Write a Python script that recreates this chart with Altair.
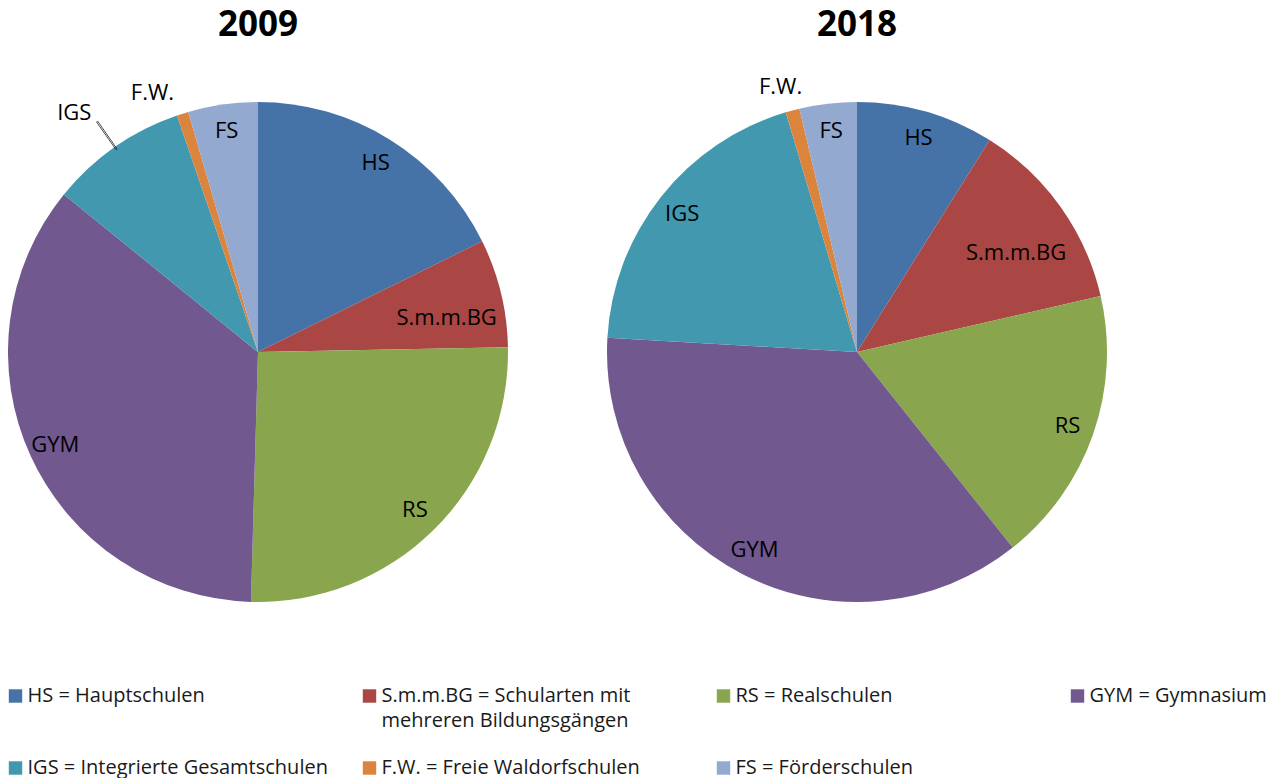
import math
import altair as alt
import pandas as pd

# ---- data ----
categories = ["HS", "S.m.m.BG", "RS", "GYM", "IGS", "F.W.", "FS"]
legend_labels = [
    "HS = Hauptschulen",
    "S.m.m.BG = Schularten mit\nmehreren Bildungsgängen",
    "RS = Realschulen",
    "GYM = Gymnasium",
    "IGS = Integrierte Gesamtschulen",
    "F.W. = Freie Waldorfschulen",
    "FS = Förderschulen",
]
colors = ["#4572A7", "#AA4643", "#89A54E", "#71588F", "#4198AF", "#DB843D", "#93A9CF"]
share_2009 = [17.7, 7.0, 25.75, 35.4, 8.9, 0.75, 4.5]
share_2018 = [8.9, 12.5, 17.9, 36.6, 19.5, 0.9, 3.7]
years = ["2009", "2018"]
wide_labels = ["S.m.m.BG"]
outside_near = {"2009": ["F.W."], "2018": ["F.W."]}
outside_far = {"2009": ["IGS"], "2018": []}

FONT = "Open Sans"
color_scale = alt.Scale(domain=categories, range=colors)
theta_scale = alt.Scale(domain=[0, 1], range=[0, 2 * math.pi])
R = 250
# label nudges (pixels) per label group and year
nudge_near = {"2009": (-22, 5), "2018": (-5, 3)}
nudge_far = {"2009": (-12, 7), "2018": (0, 0)}


def js_list(items):
    return "[" + ",".join("'" + s + "'" for s in items) + "]"


def pie(year, values):
    df = pd.DataFrame({"cat": categories, "share": values, "idx": list(range(len(categories)))})
    base = (
        alt.Chart(df)
        .transform_joinaggregate(total="sum(share)")
        .transform_window(cum="sum(share)", sort=[{"field": "idx"}], frame=[None, 0])
        .transform_calculate(
            start="(datum.cum - datum.share) / datum.total",
            end="datum.cum / datum.total",
            mid="(datum.cum - datum.share / 2) / datum.total",
        )
    )
    arcs = base.mark_arc(outerRadius=R).encode(
        theta=alt.Theta("start:Q", scale=theta_scale),
        theta2="end:Q",
        color=alt.Color("cat:N", scale=color_scale, legend=None),
    )
    txt = dict(font=FONT, fontSize=22, color="#000000")
    label_theta = alt.Theta("mid:Q", scale=theta_scale, stack=False)
    special = wide_labels + outside_near[year] + outside_far[year]
    layers = [arcs]
    layers.append(
        base.transform_filter(f"indexof({js_list(special)}, datum.cat) < 0")
        .mark_text(radius=223, **txt)
        .encode(theta=label_theta, text="cat:N")
    )
    groups = [
        (wide_labels, 188, (6, 10)),
        (outside_near[year], 277, nudge_near[year]),
        (outside_far[year], 300, nudge_far[year]),
    ]
    for names, rad, (ddx, ddy) in groups:
        if names:
            layers.append(
                base.transform_filter(f"indexof({js_list(names)}, datum.cat) >= 0")
                .mark_text(radius=rad, dx=ddx, dy=ddy, **txt)
                .encode(theta=label_theta, text="cat:N")
            )
    if outside_far[year]:
        # leader line from the slice edge towards the outside label
        layers.append(
            base.transform_filter(f"indexof({js_list(outside_far[year])}, datum.cat) >= 0")
            .transform_calculate(a1="datum.mid - 0.0004", a2="datum.mid + 0.0004")
            .mark_arc(innerRadius=R - 3, outerRadius=R + 31, filled=False,
                      stroke="#222222", strokeWidth=0.8)
            .encode(theta=alt.Theta("a1:Q", scale=theta_scale), theta2="a2:Q")
        )
    return alt.layer(*layers).properties(
        width=2 * R,
        height=600,
        title=alt.TitleParams(year, font=FONT, fontSize=35, fontWeight="bold",
                              color="#000000", offset=9),
    )


pies = alt.hconcat(pie(years[0], share_2009), pie(years[1], share_2018), spacing=99)

leg_df = pd.DataFrame({"cat": categories, "label": legend_labels, "idx": list(range(len(categories)))})
leg_base = alt.Chart(leg_df).transform_calculate(
    col="datum.idx % 4", row="floor(datum.idx / 4)"
).encode(
    x=alt.X("col:Q", scale=alt.Scale(domain=[0, 3], range=[7.5, 1069.5]), axis=None),
    y=alt.Y("row:Q", scale=alt.Scale(domain=[0, 1], range=[0, 72]), axis=None),
)
squares = leg_base.mark_square(size=180, opacity=1).encode(
    color=alt.Color("cat:N", scale=color_scale, legend=None)
)
labels = leg_base.mark_text(
    align="left", baseline="alphabetic", dx=12, dy=6, lineBreak="\n",
    lineHeight=25, fontSize=20, font=FONT, color="#1a1a1a"
).encode(text="label:N")
legend = alt.layer(squares, labels).properties(width=1062, height=72)

chart = alt.vconcat(pies, legend, spacing=34).properties(padding=0).configure_view(
    stroke=None
)

chart.save("out.html", embed_options={"renderer": "svg", "actions": False})
